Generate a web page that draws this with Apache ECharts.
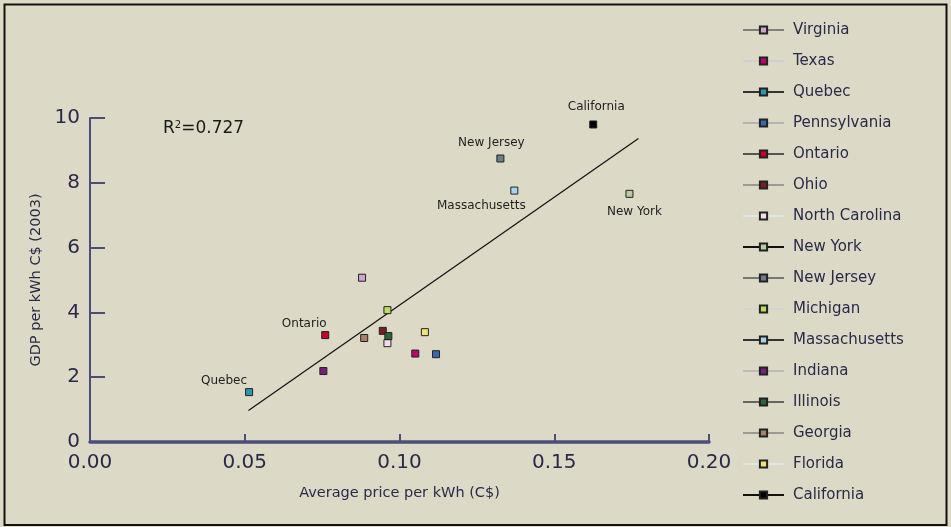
<!DOCTYPE html>
<html>
<head>
<meta charset="utf-8">
<script src="https://cdn.jsdelivr.net/npm/echarts@6/dist/echarts.min.js"></script>
<style>
html,body{margin:0;padding:0;background:#dcd9c7;}
#chart{width:951px;height:527px;}
</style>
</head>
<body>
<div id="chart"></div>
<script>
// ---- data ----
var states = ['Virginia','Texas','Quebec','Pennsylvania','Ontario','Ohio','North Carolina','New York','New Jersey','Michigan','Massachusetts','Indiana','Illinois','Georgia','Florida','California'];
var priceValues = [0.0879,0.1051,0.0514,0.1118,0.0760,0.0946,0.0961,0.1743,0.1326,0.0961,0.1371,0.0754,0.0964,0.0886,0.1082,0.1626];
var gdpValues   = [5.07,2.73,1.54,2.71,3.30,3.43,3.05,7.66,8.75,4.07,7.76,2.19,3.27,3.21,3.39,9.80];
var trendX = [0.0512,0.1772];
var trendY = [0.97,9.37];
var xTicks = [0,0.05,0.10,0.15,0.20];
var yTicks = [0,2,4,6,8,10];
var rSquared = '0.727';

// ---- styles ----
var markerColors = ['#d0a4cc','#c0006e','#2898b0','#3a68b0','#c8002a','#7a1c24','#f6dcea','#b8cc9c','#6c7c8c','#c0dc60','#a8d4f4','#782080','#2a6438','#a88068','#f4e078','#000000'];
var lineColors   = ['#808080','#d0d0d4','#333333','#b4b4b4','#555555','#999999','#e4e4e8','#111111','#777777','#d4d4d4','#333333','#bbbbbb','#666666','#999999','#e4e4e4','#111111'];
var labelOffsets = {
  'California':[3,-18],
  'New Jersey':[-9,-16],
  'Massachusetts':[-33,15],
  'New York':[5,18],
  'Ontario':[-21,-11],
  'Quebec':[-25,-11]
};

var axisColor = '#4d4d7a';
var textColor = '#2a2a48';

var series = states.map(function(name,i){
  var off = labelOffsets[name];
  return {
    name: name,
    type: 'line',
    data: [[priceValues[i], gdpValues[i]]],
    symbol: 'rect',
    symbolSize: 7,
    z: 5,
    itemStyle: {color: markerColors[i], borderColor: '#222', borderWidth: 1},
    lineStyle: {color: lineColors[i], width: 2},
    label: off ? {
      show: true, position: 'inside', offset: off,
      formatter: name, color: '#1e1e1e', fontSize: 12,
      fontFamily: 'DejaVu Sans', textBorderWidth: 0
    } : {show:false},
    emphasis: {disabled: true},
    animation: false
  };
});
series.push({
  name: 'trend', type: 'line',
  data: trendX.map(function(x,i){return [x, trendY[i]];}),
  symbol: 'none', silent: true, z: 3,
  lineStyle: {color: '#111', width: 1.2},
  animation: false
});

var chart = echarts.init(document.getElementById('chart'));
chart.setOption({
  backgroundColor: '#dcd9c7',
  animation: false,
  textStyle: {fontFamily: 'DejaVu Sans'},
  grid: {left: 90, right: 242, top: 118, bottom: 85},
  xAxis: {
    type: 'value', min: xTicks[0], max: xTicks[xTicks.length-1], interval: 0.05,
    name: 'Average price per kWh (C$)', nameLocation: 'middle', nameGap: 44,
    nameTextStyle: {color: textColor, fontSize: 14.5, fontFamily: 'DejaVu Sans'},
    axisLine: {show: true, onZero: false, lineStyle: {color: axisColor, width: 3.5}},
    axisTick: {show: true, inside: true, length: 8, lineStyle: {color: axisColor, width: 2}},
    axisLabel: {color: textColor, fontSize: 20, margin: 11, formatter: function(v){return v.toFixed(2);}},
    splitLine: {show: false}
  },
  yAxis: {
    type: 'value', min: yTicks[0], max: yTicks[yTicks.length-1], interval: 2,
    name: 'GDP per kWh C$ (2003)', nameLocation: 'middle', nameGap: 44, nameRotate: 90,
    nameTextStyle: {color: textColor, fontSize: 14.5},
    axisLine: {show: true, lineStyle: {color: axisColor, width: 2}},
    axisTick: {show: true, inside: true, length: 15, lineStyle: {color: axisColor, width: 2}},
    axisLabel: {color: textColor, fontSize: 20, margin: 10},
    splitLine: {show: false}
  },
  legend: {
    data: states,
    orient: 'vertical',
    left: 742, top: 21, padding: 0,
    itemWidth: 41, itemHeight: 9, itemGap: 13,
    textStyle: {color: textColor, fontSize: 15, lineHeight: 18, padding: [0,0,0,4]},
    selectedMode: false
  },
  graphic: [
    {type: 'rect', silent: true, shape: {x: 4.5, y: 4.5, width: 942, height: 520.5},
     style: {fill: 'none', stroke: '#111', lineWidth: 2}},
    {type: 'text', left: 163, top: 120, silent: true,
     style: {
       text: '{a|R}{s|2}{a|=' + rSquared + '}',
       rich: {
         a: {fontSize: 17, fill: '#1a1a1a', fontFamily: 'DejaVu Sans'},
         s: {fontSize: 10, fill: '#1a1a1a', fontFamily: 'DejaVu Sans', verticalAlign: 'top', padding: [0,0,8,0]}
       }
     }}
  ],
  series: series
});
</script>
</body>
</html>
